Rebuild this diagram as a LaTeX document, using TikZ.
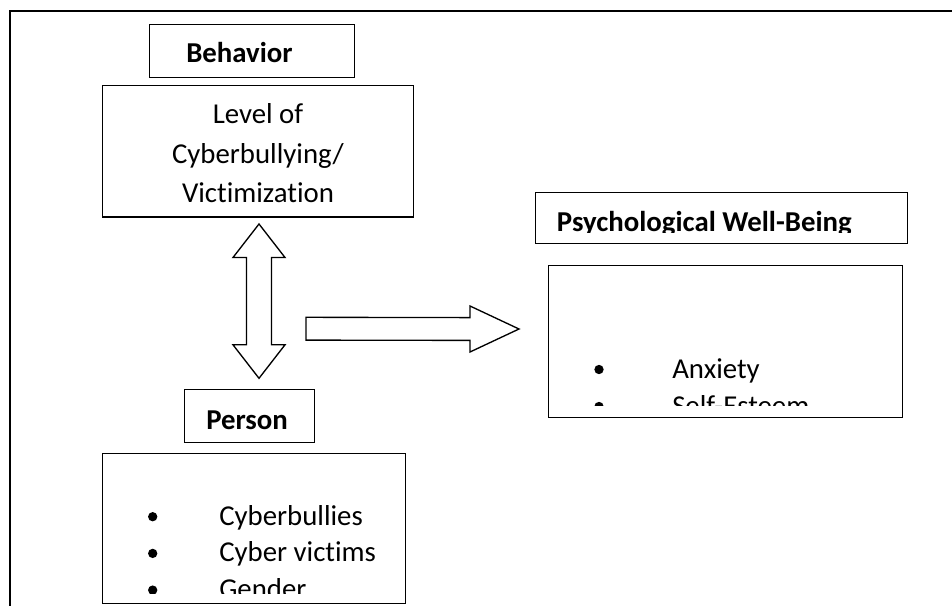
\documentclass[tikz,border=0pt]{standalone}
\usepackage{fontspec}
\setmainfont{Carlito}[Ligatures=NoCommon]
\usetikzlibrary{calc}

\tikzset{
	box/.style={draw, line width=1pt, inner sep=0pt, anchor=north west},
	txt/.style={anchor=base west, inner sep=0pt, font=\fontsize{21.6}{29}\selectfont},
	headtxt/.style={txt, font=\fontsize{21.6}{29}\selectfont\bfseries},
	dot/.style={circle, fill, inner sep=0pt, minimum size=7pt},
	blockarrow/.style={draw, line width=1pt, fill=white, line join=miter},
}

\begin{document}
\begin{tikzpicture}[x=0.75pt,y=0.75pt,yscale=-1,xscale=1]
			\useasboundingbox (0,0) rectangle (952,606);

			%Straight Lines [frame]
			\draw [line width=1.2pt]  (10,606) -- (10,11) -- (952,11) ;

			%Shape: Rectangle [behavior]
			\node [box, minimum width=153.75pt, minimum height=39.75pt] (behbox) at (149,24) {};
			%Shape: Rectangle [level]
			\node [box, minimum width=233.25pt, minimum height=98.6pt] (lvlbox) at (102,85) {};
			%Shape: Rectangle [psychological]
			\node [box, minimum width=278.8pt, minimum height=38.25pt] (psyhead) at (535,191.7) {};
			\node [box, minimum width=265.5pt, minimum height=113.8pt] (psybox) at (547.7,265) {};
			%Shape: Rectangle [person]
			\node [box, minimum width=97.5pt, minimum height=39.5pt] (perhead) at (184,389) {};
			\node [box, minimum width=227.5pt, minimum height=112.7pt] (perbox) at (101.7,452.7) {};

			%Shape: Double Arrow
			\coordinate (dtop) at (259,224) ;
			\coordinate (dbot) at (259,378.3) ;
			\draw [blockarrow] (dtop) -- ($(dtop)+(26,33.5)$) -- ($(dtop)+(12.5,33.5)$) -- ($(dbot)+(12.5,-33.5)$) -- ($(dbot)+(26,-33.5)$) -- (dbot) -- ($(dbot)+(-26,-33.5)$) -- ($(dbot)+(-12.5,-33.5)$) -- ($(dtop)+(-12.5,33.5)$) -- ($(dtop)+(-26,33.5)$) -- cycle ;
			%Shape: Right Arrow
			\coordinate (rtail) at (306,328.7) ;
			\coordinate (rtip) at (519,329) ;
			\draw [blockarrow] ($(rtail)+(0,-11.4)$) -- ($(rtip)+(-49,-11.4)$) -- ($(rtip)+(-49,-23)$) -- (rtip) -- ($(rtip)+(-49,23)$) -- ($(rtip)+(-49,11.4)$) -- ($(rtail)+(0,11.4)$) -- cycle ;

			% Text Node
			\node [headtxt] (behtxt) at (186,62.7) {Behavior};
			% Text Node
			\node [txt, anchor=base] (lvl1) at (258,124) {Level of};
			\node [txt, anchor=base] (lvl2) at (258,163.5) {Cyberbullying/};
			\node [txt, anchor=base] (lvl3) at (258,202.5) {Victimization};
			% Text Node
			\begin{scope}
				\clip (535,191.7) rectangle (906.7,232.5);
				\node [headtxt] (psytxt) at (556.7,231) {Psychological Well-Being};
			\end{scope}
			% Text Node
			\node [dot] (d1) at (599,369.5) {};
			\node [txt] (anx) at (672,378) {Anxiety};
			\begin{scope}
				\clip (547.7,265) rectangle (901.7,405);
				\node [dot] (d2) at (599,406.5) {};
				\node [txt] (est) at (672,415) {Self-Esteem};
			\end{scope}
			% Text Node
			\node [headtxt] (pertxt) at (206,429.3) {Person};
			% Text Node
			\node [dot] (d3) at (152.7,516.7) {};
			\node [txt] (bul) at (219,525) {Cyberbullies};
			\node [dot] (d4) at (152.7,553.4) {};
			\node [txt] (vic) at (219,561.7) {Cyber victims};
			\begin{scope}
				\clip (101.7,452.7) rectangle (405,593);
				\node [dot] (d5) at (152.7,590.1) {};
				\node [txt] (gen) at (219,598.4) {Gender};
			\end{scope}

		\end{tikzpicture}
\end{document}
